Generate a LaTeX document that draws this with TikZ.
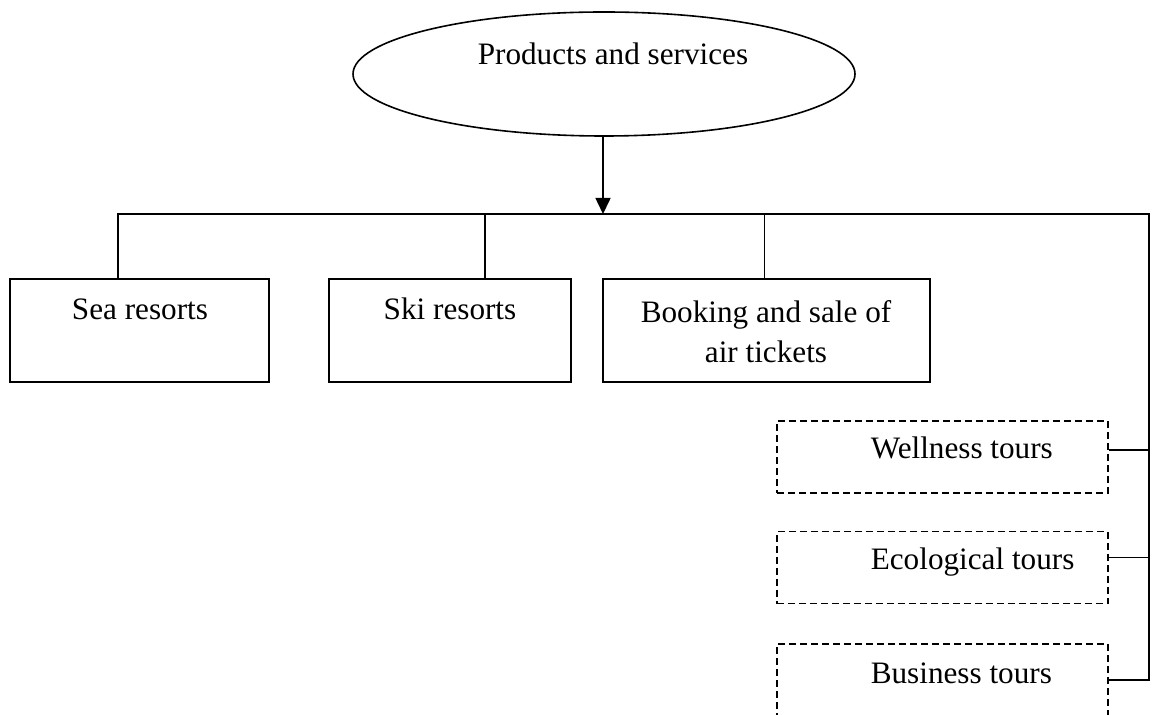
\documentclass[tikz,border=0pt]{standalone}
\usepackage{fontspec}
\setmainfont{Liberation Serif}
\usetikzlibrary{arrows.meta,shapes.geometric}

\begin{document}
\begin{tikzpicture}[
    x=0.5pt, y=-0.5pt,
    font=\fontsize{15.6}{20}\selectfont,
    line width=0.8pt,
    solidbox/.style={draw, rectangle, inner sep=0pt},
    dashbox/.style={draw, rectangle, inner sep=0pt, dash pattern=on 3.5pt off 2pt,
                    minimum width=165.5pt, minimum height=36pt},
    topoval/.style={draw, ellipse, inner sep=0pt, minimum width=251pt, minimum height=62pt},
    caption/.style={inner sep=0pt},
    link/.style={draw, line width=0.8pt},
    arrowlink/.style={link, -{Triangle[length=8pt,width=7.5pt]}}
  ]
  \useasboundingbox (0,0) rectangle (1154,715);

  % root of the hierarchy
  \node[topoval] (prod) at (604,74) {};
  \node[caption, anchor=base west] (prodT) at (477,65) {Products and services};

  % main branches
  \node[solidbox, minimum width=129.5pt, minimum height=51.5pt] (sea) at (139.5,330.5) {};
  \node[solidbox, minimum width=121pt,   minimum height=51.5pt] (ski) at (450,330.5) {};
  \node[solidbox, minimum width=163.5pt, minimum height=51.5pt] (bk)  at (766.5,330.5) {};
  \node[caption, anchor=base] (seaT) at (140,320) {Sea resorts};
  \node[caption, anchor=base] (skiT) at (450,320) {Ski resorts};
  \node[caption, align=center, anchor=center] (bkT) at (766,332) {Booking and sale of\\air tickets};

  % tour types
  \node[dashbox] (wel) at (942.5,457) {};
  \node[dashbox] (eco) at (942.5,567.5) {};
  \node[dashbox] (biz) at (942.5,680) {};
  \node[caption, anchor=base west] (welT) at (870,458) {Wellness tours};
  \node[caption, anchor=base west] (ecoT) at (870,569) {Ecological tours};
  \node[caption, anchor=base west] (bizT) at (870,683) {Business tours};

  % bus and rail junctions
  \coordinate (hub) at (603,214);
  \coordinate (railTop) at (1149,214);

  \draw[arrowlink] (prod.south -| hub) -- (hub);
  \draw[link] ([xshift=-10.75pt]sea.north) |- (railTop)
              -- (railTop |- biz.east) -- (biz.east);
  \draw[link] ([xshift=17.5pt]ski.north) -- ([xshift=17.5pt]ski.north |- hub);
  \draw[link] ([xshift=-1pt]bk.north) -- ([xshift=-1pt]bk.north |- hub);
  \draw[link] ([yshift=3.5pt]wel.east) -- ([yshift=3.5pt]wel.east -| railTop);
  \draw[link] ([yshift=5pt]eco.east) -- ([yshift=5pt]eco.east -| railTop);
\end{tikzpicture}
\end{document}
